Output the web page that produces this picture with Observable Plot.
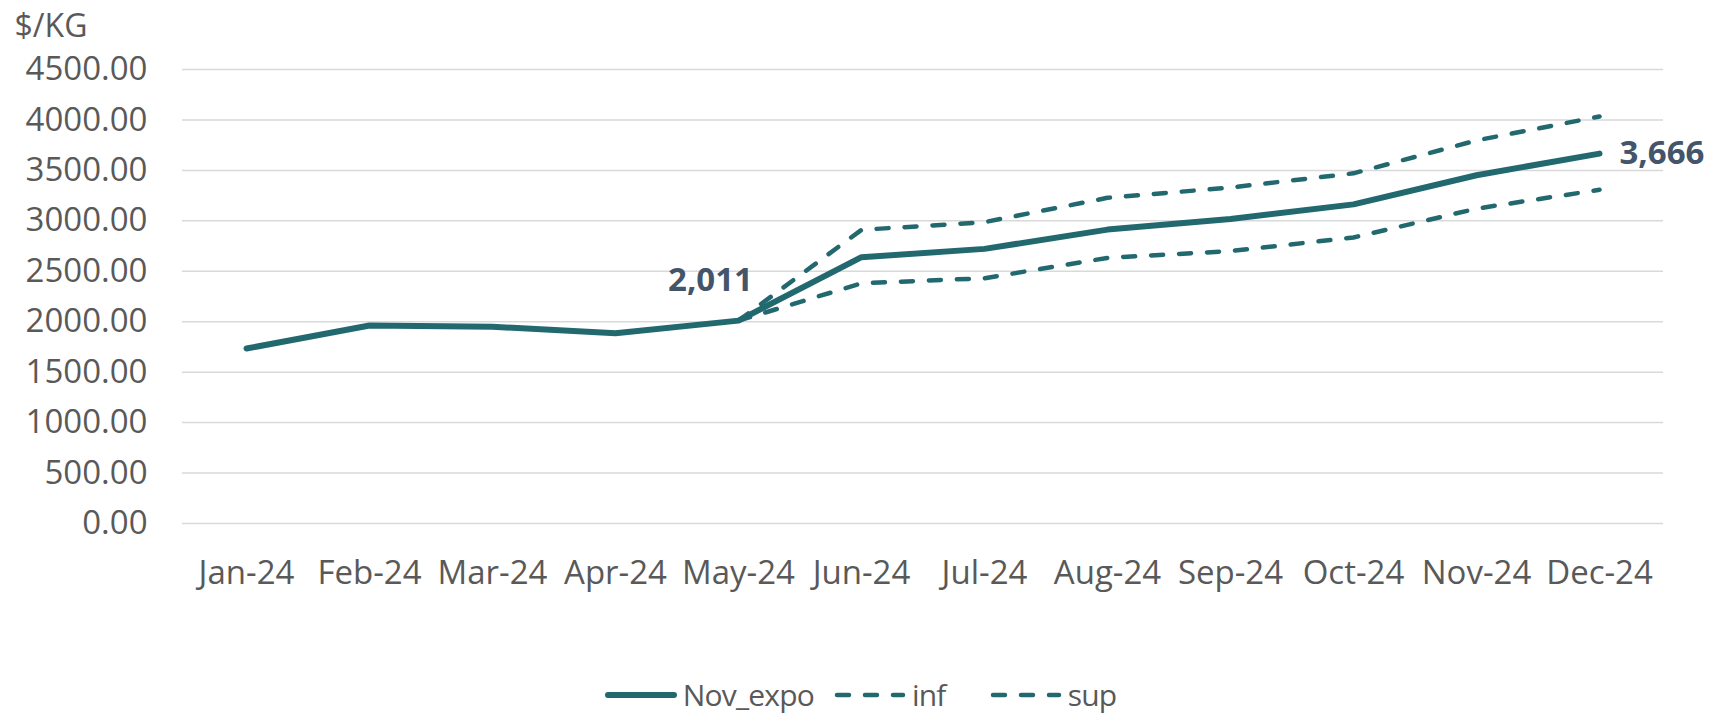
<!DOCTYPE html>
<html>
<head>
<meta charset="utf-8">
<script src="https://cdn.jsdelivr.net/npm/d3@7"></script>
<script src="https://cdn.jsdelivr.net/npm/@observablehq/plot@0.6"></script>
<style>
  html, body { margin: 0; padding: 0; background: #fff; }
  body { width: 1715px; height: 719px; overflow: hidden; font-family: "Open Sans", sans-serif; }
  #legend { height: 49px; display: flex; justify-content: center; align-items: center; color: #595959; font-size: 30px; letter-spacing: -0.8px; font-family: "Open Sans", sans-serif; padding-left: 6px; }
  #legend .item { display: flex; align-items: center; }
  #legend svg { margin-right: 6px; }
</style>
</head>
<body>
<div id="chart"></div>
<div id="legend"></div>
<script>
const months = ["Jan-24","Feb-24","Mar-24","Apr-24","May-24","Jun-24","Jul-24","Aug-24","Sep-24","Oct-24","Nov-24","Dec-24"];
const novExpo = [1734, 1962, 1950, 1885, 2011, 2640, 2722, 2913, 3018, 3163, 3452, 3666];
const infVals = [null, null, null, null, 2011, 2381, 2431, 2633, 2700, 2835, 3121, 3308];
const supVals = [null, null, null, null, 2011, 2911, 2987, 3228, 3330, 3471, 3797, 4034];
const yTicks = [0, 500, 1000, 1500, 2000, 2500, 3000, 3500, 4000, 4500];
const seriesNames = ["Nov_expo", "inf", "sup"];
const labelMonths = ["May-24", "Dec-24"];

const teal = "#22686f";
const rows = months.map((m, i) => ({month: m, nov: novExpo[i], inf: infVals[i], sup: supVals[i]}));
const labelRows = rows.filter(d => labelMonths.includes(d.month));
const fmt = d3.format(",.0f");

const chart = Plot.plot({
  width: 1715,
  height: 670,
  marginLeft: 182,
  marginRight: 52,
  marginTop: 69,
  marginBottom: 147,
  style: {fontFamily: "Open Sans, sans-serif", color: "#595959", background: "#fff"},
  x: {type: "point", domain: months, padding: 0.5},
  y: {domain: [0, 4500]},
  marks: [
    Plot.gridY(yTicks, {stroke: "#d9d9d9", strokeOpacity: 1, strokeWidth: 1.5}),
    Plot.axisY({ticks: yTicks, tickSize: 0, tickPadding: 35, fontSize: 33, tickFormat: d => d.toFixed(2), label: null}),
    Plot.axisX({tickSize: 0, tickPadding: 37, fontSize: 33, label: null}),
    Plot.line(rows, {x: "month", y: "nov", stroke: teal, strokeWidth: 6, strokeLinecap: "round", strokeLinejoin: "round"}),
    Plot.line(rows, {x: "month", y: "inf", stroke: teal, strokeWidth: 4.5, strokeDasharray: "12,16", strokeLinecap: "round", strokeLinejoin: "round"}),
    Plot.line(rows, {x: "month", y: "sup", stroke: teal, strokeWidth: 4.5, strokeDasharray: "12,16", strokeLinecap: "round", strokeLinejoin: "round"}),
    Plot.text(labelRows.filter(d => d.month === "May-24"), {x: "month", y: "nov", text: d => fmt(d.nov), dx: -28, dy: -40, fontSize: 33, fontWeight: "bold", fill: "#44546a", textAnchor: "middle"}),
    Plot.text(labelRows.filter(d => d.month === "Dec-24"), {x: "month", y: "nov", text: d => fmt(d.nov), dx: 20, dy: 0, fontSize: 33, fontWeight: "bold", fill: "#44546a", textAnchor: "start"}),
    Plot.text(["$/KG"], {frameAnchor: "top-left", lineAnchor: "middle", dx: -168, dy: -43, fontSize: 32, fill: "#595959", textAnchor: "start"})
  ]
});
document.getElementById("chart").appendChild(chart);

// legend
const legend = document.getElementById("legend");
const gaps = [0, 20, 44];
seriesNames.forEach((name, i) => {
  const item = document.createElement("div");
  item.className = "item";
  item.style.marginLeft = gaps[i] + "px";
  const dashed = i > 0;
  item.innerHTML = `<svg width="72" height="12"><line x1="3" y1="6" x2="69" y2="6" stroke="${teal}" stroke-width="${dashed ? 4.5 : 6}" stroke-linecap="round" ${dashed ? 'stroke-dasharray="12,16"' : ''}/></svg><span>${name}</span>`;
  legend.appendChild(item);
});
</script>
</body>
</html>
